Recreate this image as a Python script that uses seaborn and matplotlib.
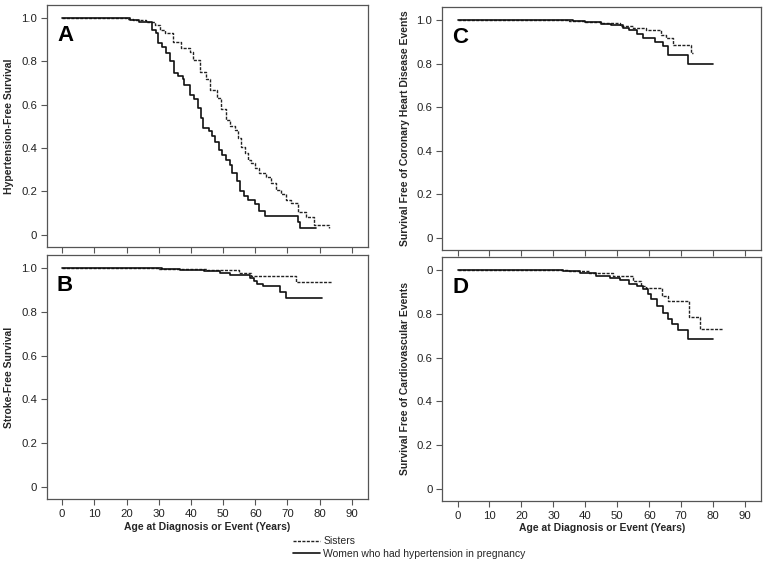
import numpy as np
import pandas as pd
import seaborn as sns
from matplotlib import pyplot as plt
from matplotlib.lines import Line2D

sns.set_style("ticks")
plt.rcParams["font.family"] = ["Liberation Sans", "DejaVu Sans"]

# panel A - hypertension
a_women_age = [0, 21, 24, 28, 29.3, 29.8, 31, 32.3, 33.5, 34.6, 36, 37.4, 38, 39.7, 41, 42.3, 43, 43.9,
               45.5, 46.5, 47.6, 48.6, 49.6, 50.9, 52, 52.9, 54.2, 55.2, 56.5, 57.8, 59.8, 61.3, 62.9,
               73.2, 73.8, 79]
a_women_surv = [1.0, 0.99, 0.98, 0.945, 0.93, 0.883, 0.868, 0.837, 0.80, 0.748, 0.73, 0.717, 0.69, 0.643,
                0.628, 0.584, 0.537, 0.491, 0.48, 0.456, 0.43, 0.392, 0.369, 0.346, 0.323, 0.284, 0.246,
                0.20, 0.177, 0.162, 0.14, 0.108, 0.088, 0.061, 0.031, 0.031]
a_sis_age = [0, 20, 22, 26, 29, 30.3, 32, 34.5, 37, 39.7, 40.7, 42.8, 44.8, 45.9, 48, 49.5, 51, 52,
             53.6, 54.6, 55.7, 56.7, 57.8, 58.8, 59.8, 61.3, 63.4, 65, 66.5, 68, 69.6, 71, 73.3, 75.9,
             78.3, 83]
a_sis_surv = [1.0, 0.995, 0.99, 0.98, 0.968, 0.945, 0.93, 0.89, 0.86, 0.845, 0.806, 0.753, 0.72, 0.668,
              0.63, 0.58, 0.53, 0.50, 0.485, 0.445, 0.406, 0.376, 0.345, 0.33, 0.307, 0.284, 0.268,
              0.238, 0.207, 0.19, 0.16, 0.145, 0.107, 0.084, 0.046, 0.03]

# panel B - stroke
b_women_age = [0, 31, 36.5, 44, 49, 52, 58.5, 59.5, 60.4, 62.4, 67.8, 69.5, 80.6]
b_women_surv = [1.0, 0.995, 0.99, 0.985, 0.98, 0.968, 0.955, 0.94, 0.929, 0.918, 0.89, 0.865, 0.865]
b_sis_age = [0, 30, 45, 49.5, 55, 58.8, 72.7, 83.7]
b_sis_surv = [1.0, 0.997, 0.993, 0.99, 0.98, 0.966, 0.935, 0.935]

# panel C - coronary heart disease
c_women_age = [0, 36, 39.8, 45, 48, 51.8, 53.8, 56, 58, 61.7, 64.3, 65.8, 72, 79.9]
c_women_surv = [1.0, 0.995, 0.99, 0.983, 0.975, 0.963, 0.953, 0.935, 0.918, 0.897, 0.882, 0.84, 0.80, 0.80]
c_sis_age = [0, 35, 40, 45, 50.7, 55, 59, 63.7, 65.3, 67.4, 73.1, 73.6]
c_sis_surv = [1.0, 0.997, 0.993, 0.985, 0.971, 0.962, 0.953, 0.933, 0.918, 0.887, 0.85, 0.85]

# panel D - cardiovascular events
d_women_age = [0, 33, 38.2, 43.4, 47.6, 50.7, 53.8, 56, 58, 59.6, 60.6, 62.4, 64.3, 65.8, 67, 69, 72, 80]
d_women_surv = [1.0, 0.995, 0.989, 0.973, 0.962, 0.953, 0.938, 0.928, 0.912, 0.89, 0.867, 0.837, 0.806,
                0.776, 0.753, 0.728, 0.685, 0.685]
d_sis_age = [0, 35, 41, 48.5, 54.8, 57.5, 59, 64, 66, 72.3, 75.8, 83]
d_sis_surv = [1.0, 0.995, 0.985, 0.973, 0.95, 0.927, 0.918, 0.882, 0.859, 0.785, 0.731, 0.731]

yticks = [0, 0.2, 0.4, 0.6, 0.8, 1.0]
ytick_labels = ["0", "0.2", "0.4", "0.6", "0.8", "1.0"]
ytick_labels_d = ["0", "0.2", "0.4", "0.6", "0.8", "0"]
xticks = list(range(0, 100, 10))

panels = [
    ("A", [0.061, 0.575, 0.42, 0.4165], a_women_age, a_women_surv, a_sis_age, a_sis_surv,
     "Hypertension-Free Survival", ytick_labels, False),
    ("B", [0.061, 0.141, 0.42, 0.42], b_women_age, b_women_surv, b_sis_age, b_sis_surv,
     "Stroke-Free Survival", ytick_labels, True),
    ("C", [0.578, 0.570, 0.417, 0.418], c_women_age, c_women_surv, c_sis_age, c_sis_surv,
     "Survival Free of Coronary Heart Disease Events", ytick_labels, False),
    ("D", [0.578, 0.1377, 0.417, 0.42], d_women_age, d_women_surv, d_sis_age, d_sis_surv,
     "Survival Free of Cardiovascular Events", ytick_labels_d, True),
]

fig = plt.figure(figsize=(7.65, 5.81), dpi=100)
spine_col = "#555555"

for letter, pos, w_age, w_surv, s_age, s_surv, ylab, ylabels, show_x in panels:
    ax = fig.add_axes(pos)
    sns.lineplot(x=s_age, y=s_surv, ax=ax, drawstyle="steps-post", color="#222222",
                 linewidth=1.0, linestyle=(0, (2.2, 1.0)))
    sns.lineplot(x=w_age, y=w_surv, ax=ax, drawstyle="steps-post", color="#111111",
                 linewidth=1.2)
    ax.set_xlim(-4.8, 95)
    ax.set_ylim(-0.056, 1.06)
    ax.set_yticks(yticks)
    ax.set_yticklabels(ylabels)
    ax.set_xticks(xticks)
    if show_x:
        ax.set_xticklabels([str(t) for t in xticks])
        ax.set_xlabel("Age at Diagnosis or Event (Years)", fontsize=7.5, fontweight="bold", labelpad=2)
    else:
        ax.set_xticklabels([])
        ax.set_xlabel("")
    ax.set_ylabel(ylab, fontsize=7.5, fontweight="bold", labelpad=5)
    ax.tick_params(axis="both", labelsize=8.2, length=4, width=0.8, color=spine_col,
                   labelcolor="#222222", pad=3)
    for sp in ax.spines.values():
        sp.set_visible(True)
        sp.set_color(spine_col)
        sp.set_linewidth(0.9)
    ax.text(0.032, 0.875, letter, transform=ax.transAxes, fontsize=16, fontweight="bold",
            va="center", ha="left", color="black")

handles = [
    Line2D([], [], color="#222222", linewidth=1.0, linestyle=(0, (2.2, 1.0))),
    Line2D([], [], color="#111111", linewidth=1.2),
]
fig.legend(handles, ["Sisters", "Women who had hypertension in pregnancy"],
           loc="upper left", bbox_to_anchor=(286 / 765, 1 - 529 / 581), frameon=False,
           fontsize=7.5, handlelength=2.6, handletextpad=0.3, labelspacing=0.25,
           borderpad=0.2)

fig.savefig("out.png", dpi=100)
